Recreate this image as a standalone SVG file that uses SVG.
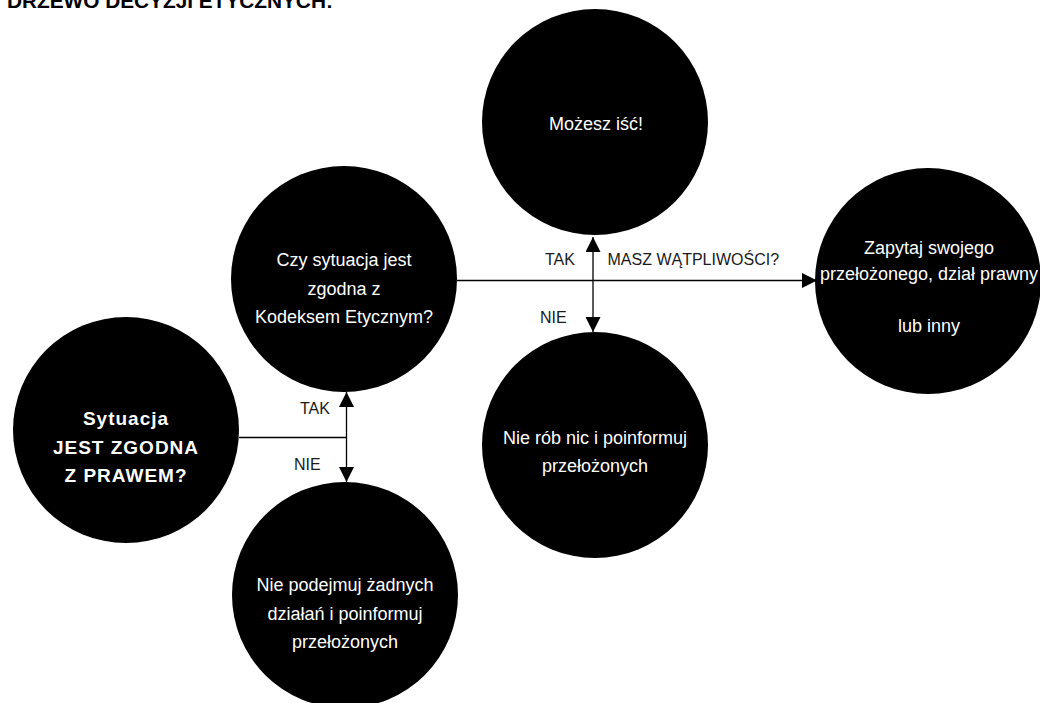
<svg xmlns="http://www.w3.org/2000/svg" width="1040" height="703" viewBox="0 0 1040 703">
  <style>
    .node { fill: #000; }
    .nt { font-family: "Liberation Sans", Arial, sans-serif; font-size: 18px; fill: #fff; text-anchor: middle; }
    .nb { font-family: "Liberation Sans", Arial, sans-serif; font-size: 19px; font-weight: bold; fill: #fff; text-anchor: middle; letter-spacing: 1px; }
    .lbl { font-family: "Liberation Sans", Arial, sans-serif; font-size: 16px; fill: #1a1a1a; }
    .title { font-family: "Liberation Sans", Arial, sans-serif; font-size: 20.8px; font-weight: bold; fill: #000; }
    .edge { stroke: #000; stroke-width: 1.3; fill: none; }
  </style>
  <defs>
    <marker id="ah" viewBox="0 0 10 10" refX="10" refY="5" markerWidth="16" markerHeight="15" markerUnits="userSpaceOnUse" orient="auto-start-reverse">
      <path d="M0,0 L10,5 L0,10 z" fill="#000"/>
    </marker>
  </defs>
  <rect x="0" y="0" width="1040" height="703" fill="#fff"/>

  <text class="title" x="7" y="7.5">DRZEWO DECYZJI ETYCZNYCH:</text>

  <g id="connectors">
    <line class="edge" x1="239" y1="437.5" x2="346.5" y2="437.5"/>
    <line class="edge" x1="346.5" y1="392" x2="346.5" y2="482" marker-start="url(#ah)" marker-end="url(#ah)"/>
    <line class="edge" x1="457" y1="280.5" x2="817" y2="280.5" marker-end="url(#ah)"/>
    <line class="edge" x1="593" y1="237" x2="593" y2="332" marker-start="url(#ah)" marker-end="url(#ah)"/>
    <text class="lbl" x="300" y="413.5">TAK</text>
    <text class="lbl" x="294" y="470">NIE</text>
    <text class="lbl" x="545" y="265">TAK</text>
    <text class="lbl" x="540" y="323">NIE</text>
    <text class="lbl" x="607.5" y="265">MASZ WĄTPLIWOŚCI?</text>
  </g>

  <g id="node-mozesz">
    <circle class="node" cx="595" cy="122" r="113"/>
    <text class="nt" x="596" y="130">Możesz iść!</text>
  </g>

  <g id="node-kodeks">
    <circle class="node" cx="344" cy="279" r="113"/>
    <text class="nt" x="344" y="266">Czy sytuacja jest</text>
    <text class="nt" x="344" y="294.5">zgodna z</text>
    <text class="nt" x="344" y="323">Kodeksem Etycznym?</text>
  </g>

  <g id="node-prawo">
    <circle class="node" cx="126" cy="430" r="113"/>
    <text class="nb" x="126" y="425">Sytuacja</text>
    <text class="nb" x="126" y="454">JEST ZGODNA</text>
    <text class="nb" x="126" y="482">Z PRAWEM?</text>
  </g>

  <g id="node-nie-podejmuj">
    <circle class="node" cx="345" cy="595" r="113"/>
    <text class="nt" x="345" y="591">Nie podejmuj żadnych</text>
    <text class="nt" x="345" y="620">działań i poinformuj</text>
    <text class="nt" x="345" y="648">przełożonych</text>
  </g>

  <g id="node-nie-rob">
    <circle class="node" cx="595" cy="445" r="113"/>
    <text class="nt" x="595" y="443.5">Nie rób nic i poinformuj</text>
    <text class="nt" x="595" y="472">przełożonych</text>
  </g>

  <g id="node-zapytaj">
    <circle class="node" cx="928" cy="281" r="113"/>
    <text class="nt" x="929" y="253.5">Zapytaj swojego</text>
    <text class="nt" x="929" y="280">przełożonego, dział prawny</text>
    <text class="nt" x="929" y="332">lub inny</text>
  </g>
</svg>
